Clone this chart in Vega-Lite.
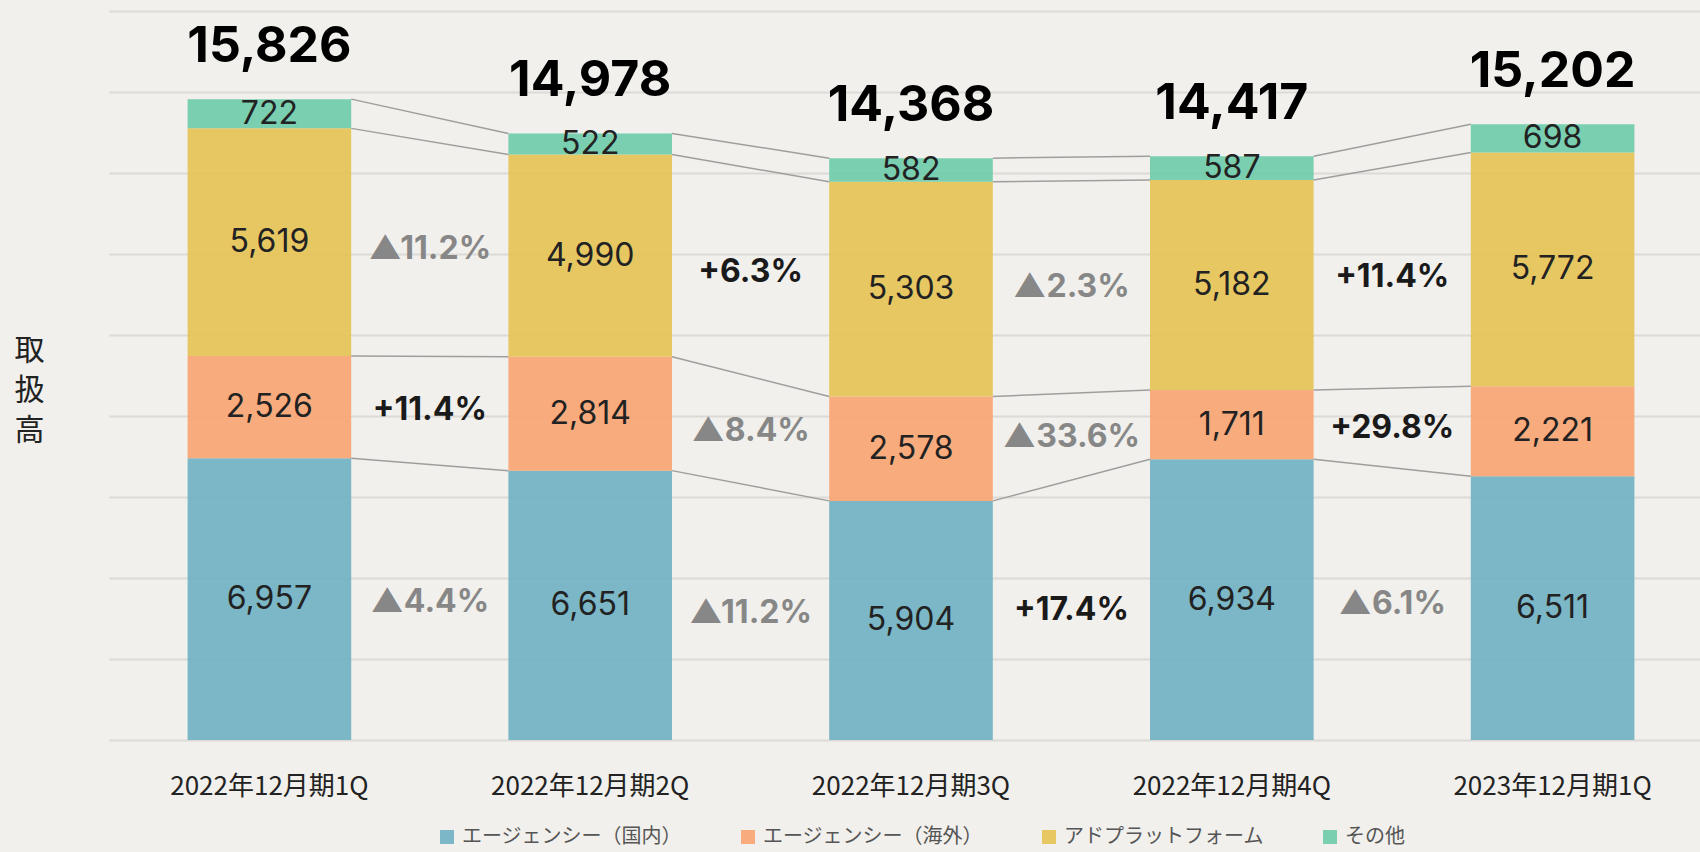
{
  "$schema": "https://vega.github.io/schema/vega-lite/v6.json",
  "width": 1591,
  "height": 729,
  "autosize": {"type": "none"},
  "padding": {"left": 109, "top": 11, "right": 0, "bottom": 112},
  "background": "#f1f0ec",
  "config": {"view": {"stroke": null}, "font": "Noto Sans CJK JP"},
  "resolve": {"axis": {"x": "independent", "y": "independent"}},
  "datasets": {
    "main": [
      {"quarter": "2022年12月期1Q", "series": "エージェンシー（国内）", "value": 6957},
      {"quarter": "2022年12月期1Q", "series": "エージェンシー（海外）", "value": 2526},
      {"quarter": "2022年12月期1Q", "series": "アドプラットフォーム", "value": 5619},
      {"quarter": "2022年12月期1Q", "series": "その他", "value": 722},
      {"quarter": "2022年12月期2Q", "series": "エージェンシー（国内）", "value": 6651, "chg": "▲4.4%"},
      {"quarter": "2022年12月期2Q", "series": "エージェンシー（海外）", "value": 2814, "chg": "+11.4%"},
      {"quarter": "2022年12月期2Q", "series": "アドプラットフォーム", "value": 4990, "chg": "▲11.2%"},
      {"quarter": "2022年12月期2Q", "series": "その他", "value": 522},
      {"quarter": "2022年12月期3Q", "series": "エージェンシー（国内）", "value": 5904, "chg": "▲11.2%"},
      {"quarter": "2022年12月期3Q", "series": "エージェンシー（海外）", "value": 2578, "chg": "▲8.4%"},
      {"quarter": "2022年12月期3Q", "series": "アドプラットフォーム", "value": 5303, "chg": "+6.3%"},
      {"quarter": "2022年12月期3Q", "series": "その他", "value": 582},
      {"quarter": "2022年12月期4Q", "series": "エージェンシー（国内）", "value": 6934, "chg": "+17.4%"},
      {"quarter": "2022年12月期4Q", "series": "エージェンシー（海外）", "value": 1711, "chg": "▲33.6%"},
      {"quarter": "2022年12月期4Q", "series": "アドプラットフォーム", "value": 5182, "chg": "▲2.3%"},
      {"quarter": "2022年12月期4Q", "series": "その他", "value": 587},
      {"quarter": "2023年12月期1Q", "series": "エージェンシー（国内）", "value": 6511, "chg": "▲6.1%"},
      {"quarter": "2023年12月期1Q", "series": "エージェンシー（海外）", "value": 2221, "chg": "+29.8%"},
      {"quarter": "2023年12月期1Q", "series": "アドプラットフォーム", "value": 5772, "chg": "+11.4%"},
      {"quarter": "2023年12月期1Q", "series": "その他", "value": 698}
    ],
    "totals": [
      {"quarter": "2022年12月期1Q", "total": 15826},
      {"quarter": "2022年12月期2Q", "total": 14978},
      {"quarter": "2022年12月期3Q", "total": 14368},
      {"quarter": "2022年12月期4Q", "total": 14417},
      {"quarter": "2023年12月期1Q", "total": 15202}
    ]
  },
  "data": {"name": "main"},
  "transform": [
    {"calculate": "indexof(['エージェンシー（国内）','エージェンシー（海外）','アドプラットフォーム','その他'], datum.series)", "as": "k"},
    {"stack": "value", "groupby": ["quarter"], "sort": [{"field": "k", "order": "ascending"}], "as": ["y0", "y1"]},
    {"calculate": "(datum.y0 + datum.y1) / 2", "as": "mid"},
    {"window": [
      {"op": "lag", "field": "mid", "as": "pmid"},
      {"op": "lag", "field": "y1", "as": "py1"},
      {"op": "lag", "field": "quarter", "as": "pq"}
    ], "groupby": ["series"], "sort": [{"field": "quarter", "order": "ascending"}]}
  ],
  "layer": [
    {
      "mark": {"type": "bar", "opacity": 0.92},
      "encoding": {
        "x": {
          "field": "quarter", "type": "nominal", "title": null,
          "scale": {"range": [0, 1604], "paddingInner": 0.49, "paddingOuter": 0.245},
          "axis": {"labelAngle": 0, "ticks": false, "domain": false, "grid": false, "labelFont": "Noto Sans CJK JP", "labelFontSize": 26, "labelColor": "#222222", "labelPadding": 46, "labelBaseline": "middle", "labelLimit": 400}
        },
        "y": {
          "field": "y1", "type": "quantitative",
          "scale": {"domain": [0, 18000]},
          "axis": {
            "title": ["取", "扱", "高"], "titleAngle": 0, "titleAlign": "center", "titleBaseline": "middle",
            "titleX": -80, "titleY": 339, "titleFontSize": 30, "titleFontWeight": "normal", "titleColor": "#222222",
            "titleLineHeight": 40, "titleFont": "Noto Sans CJK JP",
            "labels": false, "ticks": false, "domain": false, "grid": true, "gridColor": "#dcdad6", "gridWidth": 2,
            "values": [0, 2000, 4000, 6000, 8000, 10000, 12000, 14000, 16000, 18000]
          }
        },
        "y2": {"field": "y0"},
        "color": {
          "field": "series", "type": "nominal",
          "scale": {
            "domain": ["エージェンシー（国内）", "エージェンシー（海外）", "アドプラットフォーム", "その他"],
            "range": ["#71b2c2", "#f9a573", "#e6c356", "#70ccab"]
          },
          "legend": {
            "title": null, "orient": "none", "legendX": 328, "legendY": 816, "direction": "horizontal",
            "symbolType": "square", "symbolSize": 196, "symbolStrokeWidth": 0,
            "labelFont": "Noto Sans CJK JP", "labelFontSize": 20, "labelColor": "#555555", "labelLimit": 400,
            "columnPadding": 56, "labelOffset": 5
          }
        }
      }
    },
    {
      "transform": [{"filter": "datum.pq != null"}],
      "mark": {"type": "rule", "color": "#9e9e9e", "strokeWidth": 1.5},
      "encoding": {
        "x": {"field": "pq", "type": "nominal", "bandPosition": 1, "axis": null},
        "x2": {"field": "quarter", "bandPosition": 0},
        "y": {"field": "py1", "type": "quantitative", "axis": null, "scale": {"domain": [0, 18000]}},
        "y2": {"field": "y1"}
      }
    },
    {
      "mark": {"type": "text", "font": "Inter", "fontSize": 32, "color": "#222222", "baseline": "middle"},
      "encoding": {
        "x": {"field": "quarter", "type": "nominal", "axis": null},
        "y": {"field": "mid", "type": "quantitative", "axis": null, "scale": {"domain": [0, 18000]}},
        "text": {"field": "value", "type": "quantitative", "format": ","}
      }
    },
    {
      "transform": [
        {"filter": "datum.chg && datum.pmid != null"},
        {"calculate": "(datum.pmid + datum.mid) / 2", "as": "py"}
      ],
      "mark": {"type": "text", "font": "Inter", "fontSize": 32, "fontWeight": "bold", "baseline": "middle", "dx": -160.4},
      "encoding": {
        "x": {"field": "quarter", "type": "nominal", "axis": null},
        "y": {"field": "py", "type": "quantitative", "axis": null, "scale": {"domain": [0, 18000]}},
        "text": {"field": "chg"},
        "color": {"condition": {"test": "indexof(datum.chg, '▲') === 0", "value": "#878787"}, "value": "#1a1a1a"}
      }
    },
    {
      "data": {"name": "totals"},
      "mark": {"type": "text", "font": "Inter", "fontSize": 50, "fontWeight": "bold", "color": "#000000", "baseline": "alphabetic", "dy": -37},
      "encoding": {
        "x": {"field": "quarter", "type": "nominal", "axis": null},
        "y": {"field": "total", "type": "quantitative", "axis": null, "scale": {"domain": [0, 18000]}},
        "text": {"field": "total", "type": "quantitative", "format": ","}
      }
    }
  ]
}
